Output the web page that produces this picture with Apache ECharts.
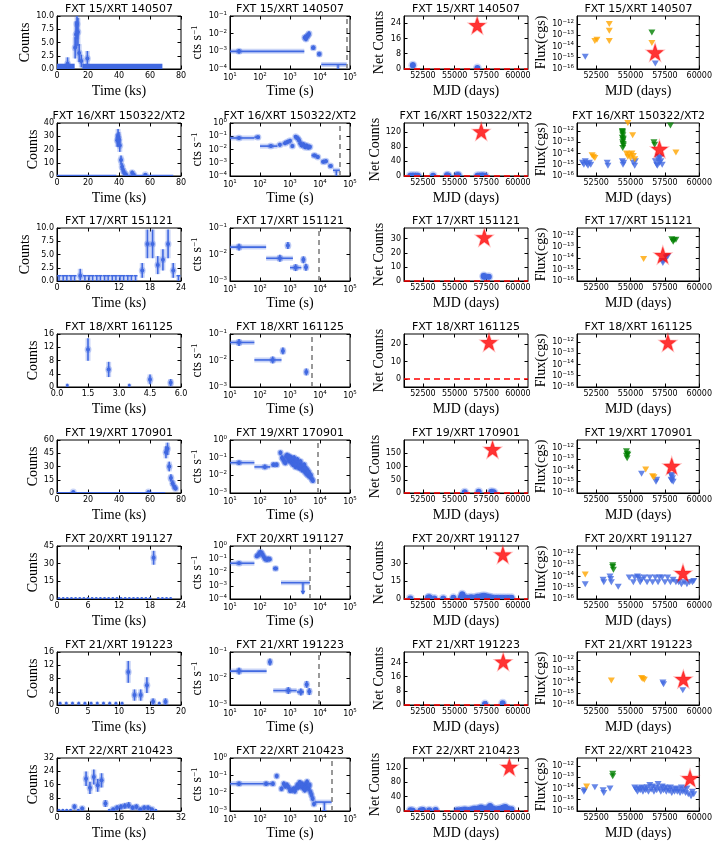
<!DOCTYPE html>
<html>
<head>
<meta charset="utf-8">
<script src="https://cdn.jsdelivr.net/npm/echarts@6/dist/echarts.min.js"></script>
<style>html,body{margin:0;padding:0;background:#fff}#c{width:715px;height:845px}</style>
</head>
<body>
<div id="c"></div>
<script>
// ---- titles / trigger dates ----
var titles = ['FXT 15/XRT 140507', 'FXT 16/XRT 150322/XT2', 'FXT 17/XRT 151121', 'FXT 18/XRT 161125',
              'FXT 19/XRT 170901', 'FXT 20/XRT 191127', 'FXT 21/XRT 191223', 'FXT 22/XRT 210423'];
var starMJD = [56784, 57103, 57347, 57717, 57997, 58814, 58840, 59327];

// ---- column 1: light curves in ks, [time, counts, err] ----
var lcXMax = [80, 80, 24, 6, 80, 24, 20, 32];
var lcXTicks = [[0,20,40,60,80],[0,20,40,60,80],[0,6,12,18,24],[0,1.5,3,4.5,6],[0,20,40,60,80],[0,6,12,18,24],[0,5,10,15,20],[0,8,16,24,32]];
var lcXLabels = [null, null, null, ['0.0','1.5','3.0','4.5','6.0'], null, null, null, null];
var lcYTicks = [[0,2.5,5,7.5,10],[0,10,20,30,40],[0,2.5,5,7.5,10],[0,4,8,12,16],[0,15,30,45,60],[0,15,30,45],[0,4,8,12,16],[0,8,16,24,32]];
var lcYLabels = [['0.0','2.5','5.0','7.5','10.0'], null, ['0.0','2.5','5.0','7.5','10.0'], null, null, null, null, null];

var lc15 = [[6.8,1,1.2],[11.7,4,2],[12.3,6.5,2.5],[12.9,8.5,2.9],[13.5,7,2.6],[14.3,3,1.7],[15.7,1.5,1.2],[19.6,2,1.4]];
var lc16 = [[38.9,27,5],[39.4,30,5.5],[39.9,28,5.3],[40.5,23,4.8],[41.3,12,3.5],[42.0,7,2.6],[42.8,4,2],[43.6,2,1.4],[44.5,1,1],[48.5,2.5,1.6],[49.5,1,1],[57,1,1]];
var lc17 = [[4.5,1,1.3],[16.5,2,1.4],[17.5,7,2.7],[18.5,7,2.7],[19.5,3,1.7],[20.5,4,2],[21.5,7,2.7],[22.5,2,1.4]];
var lc18 = [[1.5,11.3,3.4],[2.5,5.3,2.3],[4.5,2.3,1.5],[5.5,1.3,1.1]];
var lc19 = [[10.5,1,1],[59,1,1],[70.3,46,6.8],[71.3,50,7],[72.4,30,5.5],[73.5,17,4.1],[74.6,11,3.3],[75.7,7,2.6],[76.5,5,2.2]];
var lc20 = [[18.7,35,5.9]];
var lc21 = [[11.5,10,3.3],[12.5,3,1.7],[13.5,3,1.7],[14.5,6,2.4],[15.5,1,1],[17.5,1,1]];
var lc22 = [[4.5,2.5,1.6],[6.5,1.5,1.2],[7.5,19.5,4.4],[8.5,14,3.7],[9.5,20.5,4.5],[10.5,15.5,3.9],[11.5,18.5,4.3],[12.5,4.5,2.1],
            [14.5,1,1],[15.5,2,1.4],[16.5,2.5,1.6],[17.5,3,1.7],[18.5,3.5,1.9],[19.5,2,1.4],[20.5,2.5,1.6],[21.5,1,1],[22.5,2,1.4],[23.5,2,1.4],[24.5,1,1]];
// zero-count bins: dense spans [from, to] and single bins (centres)
var lcBands = [[[0,11.4],[16.3,68]], [[0,38.3],[44,75]], [], [], [[0,69.8]], [], [], []];
var lcUlBins = [[], [],
  [0.4,1.2,1.9,2.7,3.4,5.4,6.2,6.9,7.7,8.4,9.2,9.9,10.7,11.4,12.2,12.9,13.7,14.4,15.2,23.5],
  [0.5,3.5], [],
  [0.4,1.2,2.0,2.8,3.6,4.4,5.2,6.0,6.8,7.6,8.4,9.2,10.0,10.8,11.6,12.4,13.2,14.0,14.8,15.6,16.4,17.2,18.0,19.6,20.4,21.2,22.0],
  [0.5,1.5,2.5,3.5,4.5,5.5,6.5,7.5,8.5,9.5,10.5,16.5],
  [0.5,1.5,2.5,3.5,5.5,13.5,25.5]];
var lcUlHalf = [0, 0, 0.38, 0, 0, 0, 0, 0];

// ---- column 2: XRT rate, [t(s), rate, tlo, thi] ----
var rateY = [[1e-4,1e-1],[1e-4,1],[1e-3,1e-1],[1e-3,1e-1],[1e-3,1],[1e-4,1],[1e-3,1e-1],[1e-3,1]];
var rateDash = [78000, 46000, 8800, 5300, 8600, 4600, 8800, 24500];
var rate15 = [[20,1e-3,10,3000],[3100,6e-3,2950,3250],[3400,5e-3,3250,3550],[3650,7e-3,3550,3800],[3950,8e-3,3800,4100],[4300,1e-2,4100,4500],[6000,1.6e-3,5000,7000],[9500,7e-4,8000,11000]];
var rate16 = [[20,7.4e-2,10,65],[85,8.5e-2,65,100],[230,1.8e-2,100,380],[460,2.3e-2],[680,3e-2],[820,3.7e-2],[1000,4.5e-2],[1200,1.8e-2],[1550,9e-2],[1800,7e-2],
              [2000,5e-2],[2200,3e-2],[2450,2e-2],[2800,2.5e-2],[3200,1.5e-2],[3600,2e-2],[4100,1.4e-2],[4600,1.6e-2],[6500,3.6e-3,5200,7800],[8400,2.7e-3,7800,9500],
              [12900,1.2e-3,11000,14500],[15800,1.3e-3,14500,17500],[22600,5.6e-4,19000,26000]];
var rate17 = [[20,1.9e-2,10,160],[460,7.2e-3,160,1250],[850,2.2e-2,800,900],[1540,3.2e-3,1000,2400],[2800,6.3e-3,2500,3100],[3400,3.3e-3,3100,3800]];
var rate18 = [[20,4.8e-2,10,65],[265,1.05e-2,65,520],[580,2.3e-2,530,640],[3500,3.7e-3,3300,3700]];
var rate19 = [[20,5.2e-2,10,65],[145,3e-2,65,220],[280,4e-2,240,320],[360,4e-2,320,400],
              [480,0.19],[540,0.1],[600,8e-2],[650,6e-2],[700,5e-2],[750,0.12],[800,0.14],[850,0.1],[900,7e-2],[950,0.12],[1000,0.09],[1050,0.06],[1100,0.1],
              [1150,0.05],[1200,0.08],[1260,0.04],[1320,0.07],[1380,0.1],[1450,0.05],[1520,0.03],[1600,0.06],[1680,0.04],[1760,0.08],[1850,0.03],[1950,0.05],
              [2050,0.025],[2150,0.04],[2250,0.06],[2400,0.03],[2550,0.02],[2700,0.035],[2850,0.02],[3000,0.04],[3200,0.015],[3400,0.025],[3600,0.012],
              [3800,0.02],[4000,0.01],[4300,0.015],[4600,0.008],[5000,0.01],[5400,0.006],[5800,0.005]];
var rate20 = [[20,5e-2,10,65],[78,0.17,70,86],[86,0.2,80,92],[95,0.28],[103,0.35],[112,0.3],[122,0.22],[135,0.15],[150,0.1],[170,0.09],[190,0.11],[210,0.1],[330,2e-2,270,400]];
var rate21 = [[20,1.9e-2,10,166],[215,4.2e-2,190,240],[880,3.5e-3,277,1670],[2300,3.1e-3,1700,2900],[3600,6e-3,3300,3900],[4400,3.2e-3,4000,4800]];
var rate22 = [[20,3.5e-2,10,130],[160,3.5e-2,130,260],[270,3.5e-2,250,290],[360,9.5e-2],[520,1.8e-2],[620,3.5e-2],[700,2.5e-2],[800,3e-2],[900,2.2e-2],
              [1000,1.4e-2],[1150,1.5e-2],[1300,1.8e-2],[1450,1.3e-2],[1600,2e-2],[1750,3e-2],[1900,2.2e-2],[2100,4.2e-2],[2300,2.5e-2],[2500,3.5e-2],
              [2700,2e-2],[2900,2.8e-2],[3100,1.5e-2],[3300,3.3e-2],[3500,2e-2],[3700,4.5e-2],[3900,2.5e-2],[4200,1.8e-2],[4500,3e-2],[4800,1.2e-2],
              [5200,8e-3],[5700,5e-3],[6300,2.5e-3]];
// upper-limit bins [t0, t1, rate, t_arrow]
var rateUl = [[11000,78000,1.8e-4,40000], [27000,46000,2.7e-4,35000], null, null, null, [500,4600,1.7e-3,2700], null, [6800,24500,3.2e-3,14000]];

// ---- column 3: net counts vs MJD, [mjd, counts, err] ----
var netY = [[0,27.8],[0,145],[0,37.6],[-4.5,25.7],[0,200],[0,44.7],[0,30],[0,148]];
var netYTicks = [[0,8,16,24],[0,40,80,120],[0,10,20,30],[0,10,20],[0,50,100,150],[0,15,30],[0,8,16,24],[0,40,80,120]];
var netStar = [23, 122, 31, 21, 165, 37.5, 24.5, 123];
var net15 = [[51700,2,1.5],[56800,0.5,0.8]];
var net16 = [[51500,1,1],[51700,1,1],[51900,1,1],[52100,0.5,1],[53300,1,1.2],[54400,2,1.5],[54500,1,1],[55200,2,1.5],[55300,2,1.5],[56800,1,1],[57000,1,1],[57200,1.5,1.2],[57400,1,1]];
var net17 = [[57300,3.5,2],[57350,3,1.8],[57700,3,1.7]];
var net18 = [];
var net19 = [[55800,3,2],[56900,5,2.5],[57900,5,2.5],[58100,3,2]];
var net20 = [[51500,0.5,0.8],[52900,1,1],[53000,1.5,1.2],[53400,0.5,0.8],[54100,0.5,0.7],[54900,1,1],[55500,1.5,1.2],[55600,4,2],[55700,2,1.4],[56000,1,1],
             [56300,1.5,1.2],[56600,1,1],[56800,2,1.4],[57000,2,1.4],[57200,2.5,1.5],[57400,2.5,1.5],[57600,2,1.4],[57800,1.5,1.2],[58000,1,1],[58300,1,1],
             [58600,1,1],[58900,1,1],[59200,1,1],[59500,1,1]];
var net21 = [[57400,0.5,0.8],[58800,1,1]];
var net22 = [[51500,2,1.5],[51700,1,1],[52300,1.5,1.2],[52500,3,1.8],[53000,2,1.5],[53500,2.5,1.6],[55200,2,1.4],[55500,3,1.7],[55800,4,2],[56100,3,1.8],
             [56400,5,2.2],[56600,6,2.5],[56900,7,2.6],[57100,10,3],[57300,6,2.5],[57600,8,2.8],[57800,14,3.7],[58000,7,2.6],[58200,5,2.2],[58500,6,2.5],
             [58800,9,3],[59000,11,3.3],[59200,6,2.5],[59500,5,2.2]];

// ---- column 4: flux upper limits vs MJD, [mjd, flux] ----
var fluxStar = [3e-15, 2.5e-14, 2e-14, 9e-13, 2.5e-14, 2e-14, 2e-14, 8e-14];
var fluxBlue = [
  [[51700,1.2e-15],[56800,3e-16]],
  [[51500,1.5e-15],[51600,1e-15],[51700,2e-15],[51800,1.2e-15],[51900,8e-16],[52000,1.5e-15],[52100,1e-15],[53300,1.5e-15],[53350,8e-16],[54400,2e-15],
   [54450,1e-15],[54500,1.5e-15],[55200,1.5e-15],[55300,8e-16],[55350,2e-15],[56800,2e-15],[56900,1e-15],[57000,3e-15],[57100,1.5e-15],[57200,2e-15],
   [57300,1e-15],[57050,5e-15],[56950,8e-16],[57150,4e-15]],
  [[57350,4e-15],[57350,6e-15],[57600,1.2e-14],[57700,1.5e-14]],
  [],
  [[55800,5e-15],[56900,1.5e-15],[56850,1e-15],[57950,4e-15],[58000,3e-15],[58050,2e-15],[57950,1.5e-15],[58000,1.2e-15],[58100,1e-15]],
  [[51700,2e-15],[53000,5e-15],[53050,3e-15],[53500,1e-14],[53550,6e-15],[53600,3e-15],[54100,1.2e-15],[54900,8e-15],[55200,3e-15],[55300,8e-15],
   [55500,1e-14],[55600,8e-15],[55700,3e-15],[55800,5e-15],[56000,8e-15],[56200,3e-15],[56400,8e-15],[56600,3e-15],[56800,8e-15],[57000,3e-15],
   [57100,8e-15],[57300,8e-15],[57500,3e-15],[57700,8e-15],[57900,3e-15],[58100,5e-15],[58300,3e-15],[58500,3e-15],[58700,2e-15],[58900,3e-15],
   [59100,2e-15],[59300,3e-15],[59500,3e-15],[59600,4e-15]],
  [[57350,1e-14],[57400,7e-15],[58800,2e-15]],
  [[51600,5e-15],[51650,7e-15],[52400,1.3e-14],[53000,7e-15],[53050,4e-15],[53500,1e-14],[55300,1.2e-14],[55400,8e-15],[55500,5e-15],[55600,1e-14],
   [55700,7e-15],[55800,1.2e-14],[55900,5e-15],[56000,1e-14],[56100,7e-15],[56200,1.3e-14],[56300,5e-15],[56400,2e-14],[56500,8e-15],[56600,1.5e-14],
   [56700,5e-15],[56800,1.2e-14],[56900,7e-15],[57000,2.5e-14],[57100,1e-14],[57200,5e-15],[57300,1.5e-14],[57400,7e-15],[57500,1.2e-14],[57600,5e-15],
   [57700,1e-14],[57800,6e-15],[57900,1.2e-14],[58000,4e-15],[58100,8e-15],[58200,5e-15],[58300,1e-14],[58400,5e-15],[58500,8e-15],[58600,4e-15],
   [58700,1.2e-14],[58800,5e-15],[58900,8e-15],[59000,4e-15],[59100,1e-14],[59200,3e-15],[59400,2e-15],[59500,5e-15],[59600,3e-15]]
];
var fluxOrange = [
  [[52400,3e-14],[52550,4e-14],[53450,1e-12],[53450,2.5e-13],[53450,3e-14],[56550,2e-14]],
  [[52200,7e-15],[52300,5e-15],[52400,4e-15],[54800,5e-12],[54700,1e-14],[54800,5e-15],[54900,8e-15],[55000,4e-15],[55100,1e-14],[55200,6e-15],[55300,3e-15],[55150,4e-13],[58300,1.2e-14]],
  [[55950,9e-15]],
  [],
  [[56100,1.2e-14],[56600,3e-15],[56700,2.5e-15]],
  [[51700,1.5e-14]],
  [[53600,1.5e-14],[55800,2.5e-14],[55900,2e-14],[56000,1.7e-14]],
  [[51800,1.5e-14]]
];
var fluxGreen = [
  [[56550,1.7e-13]],
  [[54400,1e-12],[54410,8e-13],[54420,6e-13],[54440,4e-13],[54400,2.5e-13],[54470,2e-13],[54450,1.5e-13],[54420,1e-13],[54460,7e-14],[54480,5e-14],[54430,3e-14],[56700,1e-13],[56750,6e-14],[57900,3e-12]],
  [[58000,5e-13],[58150,4e-13],[58300,4.5e-13],[58100,3e-13]],
  [],
  [[54700,5e-13],[54750,3e-13],[54700,2e-13],[54750,1.2e-13],[54800,2.5e-13]],
  [[53700,1e-13],[53700,7e-14],[53750,4e-14]],
  [],
  [[53700,2e-13],[53700,1.2e-13]]
];

var lcPts = [lc15, lc16, lc17, lc18, lc19, lc20, lc21, lc22];
var ratePts = [rate15, rate16, rate17, rate18, rate19, rate20, rate21, rate22];
var netPts = [net15, net16, net17, net18, net19, net20, net21, net22];

// ---- layout ----
var colL = [57, 230, 404, 577], colW = [124, 120, 124, 123];
var rowT = [16, 123, 228, 334, 440, 546, 652, 758], H = 53;
var C = { blue: '#4169e1', halo: 'rgba(65,105,225,0.28)', orange: '#ffa500', green: '#008000', red: '#ff0000' };
var SERIF = 'Liberation Serif', SANS = 'DejaVu Sans';
var STAR = 'path://M0,-50 L11.8,-16.2 L47.6,-15.5 L19,6.2 L29.4,40.5 L0,20 L-29.4,40.5 L-19,6.2 L-47.6,-15.5 L-11.8,-16.2 Z';

var grids = [], xAxes = [], yAxes = [], series = [], graphics = [];

function nearestIdx(arr, v) {
  var best = 0;
  for (var i = 1; i < arr.length; i++) if (Math.abs(arr[i] - v) < Math.abs(arr[best] - v)) best = i;
  return best;
}
function supLabel(v) {
  var e = Math.round(Math.log(v) / Math.LN10);
  return '{b|10}{s|' + (e < 0 ? '\u2212' + (-e) : e) + '}';
}
var supRich = {
  b: { fontSize: 8, fontFamily: SANS, color: '#000' },
  s: { fontSize: 5.5, fontFamily: SANS, color: '#000', padding: [0, 0, 5, 0] }
};

function axis(pos, type, min, max, ticks, labels, name, gap) {
  var main = pos === 'bottom' || pos === 'left';
  var a = {
    type: type, position: pos, min: min, max: max, logBase: 10,
    axisLine: { show: main, onZero: false, lineStyle: { color: '#000', width: 1 } },
    axisTick: { show: true, inside: true, length: 3.5, customValues: ticks, lineStyle: { color: '#000', width: 1 } },
    axisLabel: { show: main, customValues: ticks, margin: 3, fontSize: 8, fontFamily: SANS, color: '#000', rich: supRich,
      formatter: type === 'log' ? supLabel : function (v) { var i = nearestIdx(ticks, v); return labels ? labels[i] : String(ticks[i]); } },
    splitLine: { show: false }
  };
  if (main && name) {
    a.name = name; a.nameLocation = 'middle'; a.nameGap = gap;
    a.nameTextStyle = { fontFamily: SERIF, fontSize: 14, color: '#000',
      rich: { s: { fontFamily: SERIF, fontSize: 9, color: '#000', padding: [0, 0, 7, 0] } } };
  }
  return a;
}

// builds a grid with mirrored ticks; returns the index of its main axes
function panel(col, row, xa, ya, xm, ym) {
  var gi = grids.length;
  grids.push({ left: colL[col], top: rowT[row], width: colW[col], height: H, show: true, borderColor: '#000', borderWidth: 1 });
  [xa, xm].forEach(function (a) { a.gridIndex = gi; xAxes.push(a); });
  [ya, ym].forEach(function (a) { a.gridIndex = gi; yAxes.push(a); });
  graphics.push({ type: 'text', x: colL[col] + colW[col] / 2, y: rowT[row] - 1.5, silent: true,
    style: { text: titles[row], align: 'center', verticalAlign: 'bottom', textAlign: 'center', textVerticalAlign: 'bottom',
             fontSize: 11, fontFamily: SANS, fill: '#000' } });
  return gi * 2;
}

function seg(p, q, color, w) {
  return { type: 'line', shape: { x1: p[0], y1: p[1], x2: q[0], y2: q[1] }, style: { stroke: color, lineWidth: w } };
}
// item: [x, y, xlo, xhi, ylo, yhi, markerRadius]
function errRender(params, api) {
  var x = api.value(0), y = api.value(1), r = api.value(6);
  var c = api.coord([x, y]);
  var segs = [[api.coord([api.value(2), y]), api.coord([api.value(3), y])],
              [api.coord([x, api.value(4)]), api.coord([x, api.value(5)])]].filter(function (s) {
    return Math.abs(s[0][0] - s[1][0]) + Math.abs(s[0][1] - s[1][1]) > 0.5;
  });
  var kids = [];
  segs.forEach(function (s) { kids.push(seg(s[0], s[1], C.halo, 5)); });
  if (r > 0) kids.push({ type: 'circle', shape: { cx: c[0], cy: c[1], r: r + 1.5 }, style: { fill: C.halo } });
  segs.forEach(function (s) { kids.push(seg(s[0], s[1], C.blue, 1.6)); });
  if (r > 0) kids.push({ type: 'circle', shape: { cx: c[0], cy: c[1], r: r }, style: { fill: C.blue } });
  return { type: 'group', children: kids };
}
function errSeries(ai, items) {
  return { type: 'custom', xAxisIndex: ai, yAxisIndex: ai, clip: true, silent: true, encode: { x: 0, y: 1 }, data: items, renderItem: errRender };
}

for (var r = 0; r < 8; r++) {
  // ---------- column 1 ----------
  var xt = lcXTicks[r], yt = lcYTicks[r];
  var ai = panel(0, r,
    axis('bottom', 'value', 0, lcXMax[r], xt, lcXLabels[r], 'Time (ks)', 15),
    axis('left', 'value', 0, yt[yt.length - 1], yt, lcYLabels[r], 'Counts', 12),
    axis('top', 'value', 0, lcXMax[r], xt), axis('right', 'value', 0, yt[yt.length - 1], yt));
  if (lcBands[r].length) series.push({
    type: 'custom', xAxisIndex: ai, yAxisIndex: ai, clip: true, silent: true, encode: { x: [0, 1], y: 2 },
    data: lcBands[r].map(function (b) { return [b[0], b[1], 1]; }),
    renderItem: function (params, api) {
      var p = api.coord([api.value(0), api.value(2)]), q = api.coord([api.value(1), 0]);
      return { type: 'rect', shape: { x: p[0], y: p[1], width: q[0] - p[0], height: Math.max(q[1] - p[1], 1) }, style: { fill: C.blue } };
    } });
  if (lcUlBins[r].length) (function (hw) {
    series.push({
      type: 'custom', xAxisIndex: ai, yAxisIndex: ai, clip: true, silent: true, encode: { x: 0, y: 1 },
      data: lcUlBins[r].map(function (x) { return [x, 1]; }),
      renderItem: function (params, api) {
        var x = api.value(0), h = api.value(1), kids = [];
        var top = api.coord([x, h]), bot = api.coord([x, 0]);
        kids.push(seg(top, bot, C.halo, 4));
        kids.push(seg(top, bot, C.blue, 1.5));
        if (hw > 0) kids.push(seg(api.coord([x - hw, h]), api.coord([x + hw, h]), C.blue, 1.5));
        else kids.push({ type: 'circle', shape: { cx: top[0], cy: (top[1] + bot[1]) / 2, r: 1.4 }, style: { fill: C.blue } });
        return { type: 'group', children: kids };
      } });
  })(lcUlHalf[r]);
  series.push(errSeries(ai, lcPts[r].map(function (p) { return [p[0], p[1], p[0], p[0], p[1] - p[2], p[1] + p[2], 2]; })));

  // ---------- column 2 ----------
  var ry = rateY[r], rTicks = [], e;
  for (e = Math.round(Math.log(ry[0]) / Math.LN10); e <= Math.round(Math.log(ry[1]) / Math.LN10); e++) rTicks.push(Math.pow(10, e));
  var tTicks = [10, 100, 1000, 10000, 100000];
  ai = panel(1, r,
    axis('bottom', 'log', 10, 1e5, tTicks, null, 'Time (s)', 15),
    axis('left', 'log', ry[0], ry[1], rTicks, null, 'cts s{s|\u22121}', 20),
    axis('top', 'log', 10, 1e5, tTicks), axis('right', 'log', ry[0], ry[1], rTicks));
  var rs = errSeries(ai, ratePts[r].map(function (p) {
    var lo = p.length > 2 ? p[2] : p[0] / 1.08, hi = p.length > 2 ? p[3] : p[0] * 1.08;
    return [p[0], p[1], lo, hi, p[1] / 1.35, p[1] * 1.35, 2];
  }));
  rs.markLine = { silent: true, symbol: 'none', label: { show: false }, animation: false,
    lineStyle: { color: '#808080', type: [5, 4], width: 1.6 }, data: [{ xAxis: rateDash[r] }] };
  series.push(rs);
  if (rateUl[r]) series.push({
    type: 'custom', xAxisIndex: ai, yAxisIndex: ai, clip: true, silent: true, encode: { x: [0, 1], y: 2 }, data: [rateUl[r]],
    renderItem: function (params, api) {
      var y = api.value(2), p = api.coord([api.value(0), y]), q = api.coord([api.value(1), y]), a = api.coord([api.value(3), y]);
      var tip = [a[0], a[1] + 11];
      return { type: 'group', children: [
        seg(p, q, C.halo, 5), seg(a, tip, C.halo, 4), seg(p, q, C.blue, 1.6), seg(a, tip, C.blue, 1.5),
        { type: 'polygon', shape: { points: [[tip[0] - 2.5, tip[1] - 3], [tip[0] + 2.5, tip[1] - 3], [tip[0], tip[1] + 1]] }, style: { fill: C.blue } }
      ] };
    } });

  // ---------- column 3 ----------
  var nt = netYTicks[r], mjdTicks = [52500, 55000, 57500, 60000];
  ai = panel(2, r,
    axis('bottom', 'value', 51000, 60800, mjdTicks, null, 'MJD (days)', 15),
    axis('left', 'value', netY[r][0], netY[r][1], nt, null, 'Net Counts', 18),
    axis('top', 'value', 51000, 60800, mjdTicks), axis('right', 'value', netY[r][0], netY[r][1], nt));
  series.push({ type: 'line', xAxisIndex: ai, yAxisIndex: ai, data: [], silent: true,
    markLine: { silent: true, symbol: 'none', label: { show: false }, animation: false,
      lineStyle: { color: C.red, type: [6, 4], width: 1.6 }, data: [{ yAxis: 0 }] } });
  series.push(errSeries(ai, netPts[r].map(function (p) { return [p[0], p[1], p[0], p[0], p[1] - p[2], p[1] + p[2], 3]; })));
  series.push({ type: 'scatter', xAxisIndex: ai, yAxisIndex: ai, symbol: STAR, symbolSize: 17, silent: true,
    itemStyle: { color: C.red, borderColor: 'rgba(255,0,0,0.35)', borderWidth: 1.5 }, data: [[starMJD[r], netStar[r]]] });

  // ---------- column 4 ----------
  var fTicks = [1e-16, 1e-15, 1e-14, 1e-13, 1e-12];
  ai = panel(3, r,
    axis('bottom', 'value', 51100, 60000, mjdTicks, null, 'MJD (days)', 15),
    axis('left', 'log', 1e-16, 5e-12, fTicks, null, 'Flux(cgs)', 26),
    axis('top', 'value', 51100, 60000, mjdTicks), axis('right', 'log', 1e-16, 5e-12, fTicks));
  [[fluxBlue, C.blue], [fluxOrange, C.orange], [fluxGreen, C.green]].forEach(function (g) {
    series.push({ type: 'scatter', xAxisIndex: ai, yAxisIndex: ai, symbol: 'triangle', symbolRotate: 180, symbolSize: [7, 6], silent: true,
      itemStyle: { color: g[1] }, data: g[0][r] });
  });
  series.push({ type: 'scatter', xAxisIndex: ai, yAxisIndex: ai, symbol: STAR, symbolSize: 17, silent: true,
    itemStyle: { color: C.red, borderColor: 'rgba(255,0,0,0.35)', borderWidth: 1.5 }, data: [[starMJD[r], fluxStar[r]]] });
}

var chart = echarts.init(document.getElementById('c'));
chart.setOption({ animation: false, grid: grids, xAxis: xAxes, yAxis: yAxes, series: series, graphic: graphics });
</script>
</body>
</html>
